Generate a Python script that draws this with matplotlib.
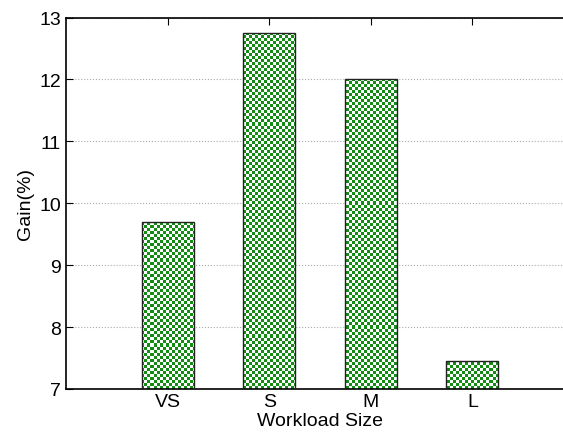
import numpy as np
import matplotlib
matplotlib.use("Agg")
import matplotlib.pyplot as plt
from matplotlib.colors import ListedColormap

categories = ["VS", "S", "M", "L"]
gains = [9.7, 12.75, 12.0, 7.45]
yticks = [7, 8, 9, 10, 11, 12, 13]

plt.rcParams['font.family'] = ['Liberation Sans', 'DejaVu Sans']
W, H = 563, 435
fig = plt.figure(figsize=(W / 100, H / 100), dpi=100)
left, right, top, bottom = 66, 574, 18.5, 390
ax = fig.add_axes([left / W, 1 - bottom / H, (right - left) / W, (bottom - top) / H])

x = np.arange(1, len(categories) + 1)
bars = ax.bar(x, gains, width=0.51, bottom=0, facecolor='none',
              edgecolor='#222222', linewidth=1.0, zorder=3)

ax.set_xlim(0, 5)
ax.set_ylim(7, 13)

# checkerboard texture clipped to each bar
cell = 3
nx = int((right - left) / cell)
ny = int((bottom - top) / cell)
checker = (np.add.outer(np.arange(ny), np.arange(nx)) % 2).astype(float)
cmap = ListedColormap(['#ffffff', '#128c12'])
for b in bars:
    im = ax.imshow(checker, cmap=cmap, extent=(0, 5, 7, 13), aspect='auto',
                   interpolation='nearest', origin='lower', zorder=2)
    im.set_clip_path(b)

ax.set_xticks(x)
ax.set_xticklabels(categories)
ax.set_yticks(yticks)
ax.tick_params(axis='both', direction='in', labelsize=14, length=5, width=0.8,
               top=True, right=False)
ax.tick_params(axis='x', pad=3)
ax.grid(axis='y', color='#aaaaaa', linestyle=':', linewidth=0.8, zorder=0)
ax.set_axisbelow(True)
for s in ['top', 'left', 'bottom']:
    ax.spines[s].set_linewidth(1.2)
ax.spines['right'].set_visible(False)

ax.set_xlabel("Workload Size", fontsize=14, labelpad=1)
ax.set_ylabel("Gain(%)", fontsize=14, labelpad=4)

fig.savefig("out.png", dpi=100)
